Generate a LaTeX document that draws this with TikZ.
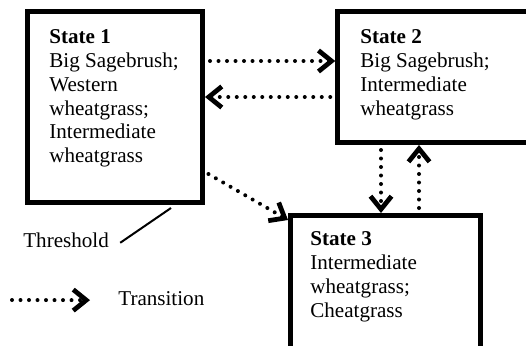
\documentclass[tikz,border=0pt]{standalone}
\usepackage{fontspec}
\setmainfont{Liberation Serif}
\usetikzlibrary{arrows.meta}
\tikzstyle{stateBox} = [rectangle, draw=black, line width=0.1cm, inner sep=0pt]
\tikzstyle{stateText} = [anchor=north west, inner sep=0pt, align=left, font=\fontsize{12pt}{13.6pt}\selectfont]
\tikzstyle{plainText} = [anchor=base west, inner sep=0pt, font=\fontsize{12pt}{13.6pt}\selectfont]
\tikzstyle{transArrow} = [line width=0.08cm, dash pattern=on 0pt off 0.17cm, line cap=round, -{Straight Barb[length=0.26cm,width=0.42cm,line width=0.095cm]}]
\tikzstyle{thresholdLine} = [line width=0.04cm]

\begin{document}
\begin{tikzpicture}

\useasboundingbox (0,0) rectangle (10.52,-6.9);

\node (state1) [stateBox, minimum width=3.5cm, minimum height=3.82cm, xshift=2.3cm, yshift=-2.14cm] {};
\node (state2) [stateBox, minimum width=4.05cm, minimum height=2.62cm, xshift=8.78cm, yshift=-1.54cm] {};
\node (state3) [stateBox, minimum width=3.8cm, minimum height=2.9cm, xshift=7.71cm, yshift=-5.76cm] {};

\node (state1Label) [stateText, xshift=0.98cm, yshift=-0.58cm] {\textbf{State 1}\\Big Sagebrush;\\Western\\wheatgrass;\\Intermediate\\wheatgrass};
\node (state2Label) [stateText, xshift=7.2cm, yshift=-0.58cm] {\textbf{State 2}\\Big Sagebrush;\\Intermediate\\wheatgrass};
\node (state3Label) [stateText, xshift=6.2cm, yshift=-4.62cm] {\textbf{State 3}\\Intermediate\\wheatgrass;\\Cheatgrass};

\node (threshold) [plainText, xshift=0.46cm, yshift=-4.94cm] {Threshold};
\node (transition) [plainText, xshift=2.36cm, yshift=-6.1cm] {Transition};
\coordinate (legendStart) at (0.24,-6.0);

\draw [transArrow, shorten <=0.1cm] ([yshift=0.92cm]state1.east) -- ([yshift=0.32cm]state2.west);
\draw [transArrow, shorten <=0.1cm] ([yshift=-0.4cm]state2.west) -- ([yshift=0.2cm]state1.east);
\draw [transArrow, shorten <=0.1cm] ([xshift=-1.16cm]state2.south) -- ([xshift=-0.09cm]state3.north);
\draw [transArrow, shorten <=0.1cm] ([xshift=0.67cm]state3.north) -- ([xshift=-0.4cm]state2.south);
\draw [transArrow, shorten <=0.08cm] ([yshift=-1.3cm]state1.east) -- ([yshift=-0.14cm]state3.north west);
\draw [thresholdLine] ([xshift=0.22cm,yshift=-0.06cm]threshold.east) -- ([xshift=1.12cm,yshift=-0.06cm]state1.south);
\draw [transArrow] (legendStart) -- ([xshift=-0.56cm,yshift=-0.04cm]transition.west);

\end{tikzpicture}
\end{document}
